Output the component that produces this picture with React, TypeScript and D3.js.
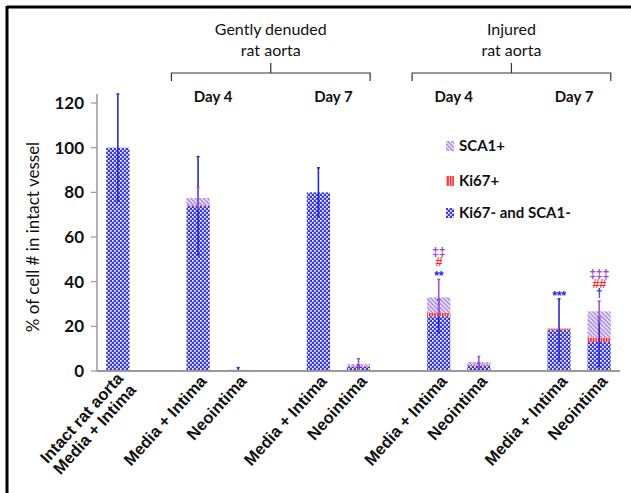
import React from "react";
import * as d3 from "d3";

// bars: slot = position on the 13-slot x band (gaps between groups)
const labels = [
  ["Intact rat aorta", "Media + Intima"],
  ["Media + Intima"],
  ["Neointima"],
  ["Media + Intima"],
  ["Neointima"],
  ["Media + Intima"],
  ["Neointima"],
  ["Media + Intima"],
  ["Neointima"],
];
const slots = [0, 2, 3, 5, 6, 8, 9, 11, 12];

// % of cell # in intact vessel
const negValues = [100, 74, 0.5, 80, 2, 24.5, 2.5, 18.3, 13];
const ki67Values = [0, 0.3, 0, 0, 0.3, 1.5, 0.5, 0.7, 2];
const sca1Values = [0, 3.2, 0, 0, 0.8, 7, 1, 0, 11.7];
const negErrors = [24, 22, 1, 11, 0.6, 7.5, 1, 14, 11];
const sca1Errors = [0, 4.7, 0, 0, 2.4, 8, 2.5, 0, 4.6];

const yTicks = [0, 20, 40, 60, 80, 100, 120];

const groups = [
  { title: ["Gently denuded", "rat aorta"], from: 1, to: 4 },
  { title: ["Injured", "rat aorta"], from: 5, to: 8 },
];
const days = [
  { text: "Day 4", bars: [1, 2] },
  { text: "Day 7", bars: [3, 4] },
  { text: "Day 4", bars: [5, 6] },
  { text: "Day 7", bars: [7, 8] },
];

const legendItems = [
  { key: "sca1", text: "SCA1+" },
  { key: "ki67", text: "Ki67+" },
  { key: "neg", text: "Ki67- and SCA1-" },
];

// significance marks, level 0 sits right above the error bar
const marks = [
  { bar: 5, text: "**", color: "#2a2ad0", level: 0 },
  { bar: 5, text: "#", color: "#ff2a2a", level: 1 },
  { bar: 5, text: "‡‡", color: "#9b3fd0", level: 2 },
  { bar: 7, text: "***", color: "#2a2ad0", level: 0 },
  { bar: 8, text: "†", color: "#2a2ad0", level: 0 },
  { bar: 8, text: "##", color: "#ff2a2a", level: 1 },
  { bar: 8, text: "‡‡‡", color: "#9b3fd0", level: 2 },
];

const W = 631;
const H = 493;
const blue = "#2a2ad0";
const purple = "#9b59d0";

export default function App() {
  const x = d3
    .scaleBand<number>()
    .domain(d3.range(13))
    .range([97, 620])
    .paddingInner(0.42)
    .paddingOuter(0.23);
  const y = d3.scaleLinear().domain([0, 120]).range([371, 103]);
  const bw = x.bandwidth();
  const cx = (i: number) => (x(slots[i]) as number) + bw / 2;

  const fill: Record<string, string> = {
    neg: "url(#pNeg)",
    ki67: "url(#pKi)",
    sca1: "url(#pSca)",
  };

  const bars = negValues.map((v, i) => {
    const k = ki67Values[i];
    const s = sca1Values[i];
    return [
      { key: "neg", y0: 0, y1: v },
      { key: "ki67", y0: v, y1: v + k },
      { key: "sca1", y0: v + k, y1: v + k + s },
    ];
  });

  const errTop = negValues.map((v, i) => {
    const tot = v + ki67Values[i] + sca1Values[i];
    return Math.max(v + negErrors[i], tot + sca1Errors[i]);
  });

  const errLine = (i: number, center: number, e: number, color: string, key: string) => {
    if (!e) return null;
    const xc = cx(i);
    const lo = y(Math.max(0, center - e));
    const hi = y(center + e);
    return (
      <g key={key} stroke={color} strokeWidth={1.6}>
        <line x1={xc} x2={xc} y1={hi} y2={lo} />
        <line x1={xc - 1.5} x2={xc + 1.5} y1={hi} y2={hi} />
        <line x1={xc - 1.5} x2={xc + 1.5} y1={lo} y2={lo} />
      </g>
    );
  };

  return (
    <svg width={W} height={H} style={{ position: "absolute", left: 0, top: 0 }}>
      <defs>
        <pattern id="pNeg" width={4} height={4} patternUnits="userSpaceOnUse">
          <rect width={4} height={4} fill="#3838da" />
          <rect x={0} y={0} width={1.7} height={1.7} fill="#ffffff" />
          <rect x={2} y={2} width={1.7} height={1.7} fill="#ffffff" />
        </pattern>
        <pattern id="pKi" width={2.6} height={4} patternUnits="userSpaceOnUse">
          <rect width={2.6} height={4} fill="#ffd0d0" />
          <rect width={1.5} height={4} fill="#ff2020" />
        </pattern>
        <pattern id="pSca" width={3} height={3} patternUnits="userSpaceOnUse" patternTransform="rotate(-45)">
          <rect width={3} height={3} fill="#f3ecfb" />
          <rect width={1.4} height={3} fill="#a57ddb" />
        </pattern>
      </defs>

      {/* frame */}
      <line x1={7} x2={W} y1={7} y2={7} stroke="#000" strokeWidth={3} />
      <line x1={7} x2={7} y1={6} y2={H} stroke="#000" strokeWidth={3} />

      {/* group headers */}
      {groups.map((g, gi) => {
        const left = (x(slots[g.from]) as number) - 15;
        const right = (x(slots[g.to]) as number) + bw;
        const mid = (left + right) / 2;
        return (
          <g key={gi} fontFamily="Lato, sans-serif" fontSize={16} fill="#111">
            <text x={mid} y={35} textAnchor="middle">{g.title[0]}</text>
            <text x={mid} y={56} textAnchor="middle">{g.title[1]}</text>
            <path
              d={`M${left},81V73H${right}V81M${mid},73V63`}
              fill="none"
              stroke="#333"
              strokeWidth={1.2}
            />
          </g>
        );
      })}
      {days.map((d, di) => {
        const mid = (cx(d.bars[0]) + cx(d.bars[1])) / 2 - 5;
        return (
          <text key={di} x={mid} y={102} textAnchor="middle" fontFamily="Lato, sans-serif" fontWeight="bold" fontSize={15} fill="#111">
            {d.text}
          </text>
        );
      })}

      {/* y axis */}
      <line x1={97} x2={97} y1={y(124)} y2={y(0)} stroke="#999" strokeWidth={1.5} />
      {yTicks.map((t) => (
        <g key={t}>
          <line x1={91} x2={97} y1={y(t)} y2={y(t)} stroke="#999" strokeWidth={1.2} />
          <text x={84} y={y(t)} dy="0.35em" textAnchor="end" fontFamily="Lato, sans-serif" fontWeight="bold" fontSize={17} fill="#111">
            {t}
          </text>
        </g>
      ))}
      <text
        transform={`translate(33,${(y(0) + y(120)) / 2}) rotate(-90)`}
        textAnchor="middle"
        dy="0.35em"
        fontFamily="Lato, sans-serif"
        fontSize={17}
        fill="#111"
      >
        % of cell # in intact vessel
      </text>

      {/* bars */}
      {bars.map((segs, i) => (
        <g key={i}>
          {segs
            .filter((s) => s.y1 > s.y0)
            .map((s) => (
              <rect
                key={s.key}
                x={x(slots[i])}
                width={bw}
                y={y(s.y1)}
                height={y(s.y0) - y(s.y1)}
                fill={fill[s.key]}
              />
            ))}
        </g>
      ))}

      {/* error bars */}
      {negValues.map((v, i) => errLine(i, v, negErrors[i], blue, "n" + i))}
      {negValues.map((v, i) =>
        errLine(i, v + ki67Values[i] + sca1Values[i], sca1Errors[i], purple, "s" + i)
      )}

      {/* x axis */}
      <line x1={97} x2={620} y1={y(0)} y2={y(0)} stroke="#999" strokeWidth={2} />

      {/* significance marks */}
      {marks.map((m, mi) => {
        const base = y(errTop[m.bar]) - 4 - m.level * 9.5 + (m.text.startsWith("*") ? 5 : 0);
        return (
          <text key={mi} x={cx(m.bar)} y={base} textAnchor="middle" fontFamily="Liberation Sans, Arial, sans-serif" fontWeight="bold" fontSize={12.5} fill={m.color} letterSpacing={-0.3}>
            {m.text}
          </text>
        );
      })}

      {/* x labels */}
      {labels.map((l, i) => (
        <text
          key={i}
          transform={`translate(${cx(i) + 5},${378}) rotate(-48)`}
          textAnchor="end"
          fontFamily="Liberation Sans, Arial, sans-serif"
          fontWeight="bold"
          fontSize={16.5}
          fill="#111"
        >
          {l.length === 1 ? (
            <tspan dy="0.35em">{l[0]}</tspan>
          ) : (
            <>
              <tspan x={0} dy="0.1em">{l[0]}</tspan>
              <tspan x={0} dy="1.05em">{l[1]}</tspan>
            </>
          )}
        </text>
      ))}

      {/* legend */}
      {legendItems.map((it, li) => {
        const ly = [146, 181, 213][li];
        return (
          <g key={it.key}>
            <rect x={446} y={ly - 5} width={8} height={10} fill={fill[it.key]} />
            <text x={459} y={ly} dy="0.35em" fontFamily="Lato, sans-serif" fontWeight="bold" fontSize={15} fill="#111">
              {it.text}
            </text>
          </g>
        );
      })}
    </svg>
  );
}
